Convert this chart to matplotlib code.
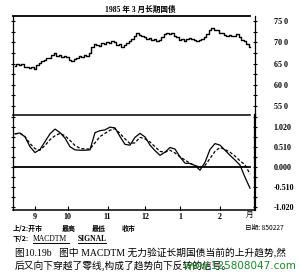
import numpy as np
import matplotlib
matplotlib.use('Agg')
import matplotlib.pyplot as plt
from matplotlib.ticker import MultipleLocator, FixedLocator

# daily closes of the March 1985 long bond
price = [64.5, 64.9, 64.7, 64.9, 64.3, 64.1, 63.9, 64.1, 63.8, 64.6,
         65.2, 65.7, 65.9, 66.4, 66.2, 67.0, 67.4, 66.9, 67.1, 66.5,
         66.8, 66.6, 65.9, 65.7, 66.1, 66.3, 66.8, 66.6, 67.0, 66.9,
         67.6, 68.8, 69.6, 69.4, 69.1, 69.8, 69.6, 70.1, 69.9, 70.4,
         70.0, 69.3, 69.6, 68.9, 69.4, 69.9, 70.2, 70.8, 71.6, 72.1,
         71.8, 71.6, 71.2, 70.9, 71.1, 70.5, 70.7, 70.2, 70.6, 71.2,
         72.0, 72.3, 72.0, 72.2, 71.6, 71.2, 70.6, 70.9, 70.2, 70.8,
         71.1, 70.9, 70.6, 70.2, 70.5, 70.7, 71.3, 72.0, 72.8, 73.3,
         73.0, 72.8, 72.3, 72.1, 71.8, 71.6, 71.8, 71.4, 71.6, 72.0,
         71.2, 70.5, 70.2, 69.7, 69.0]

# MACDTM and its signal line, one value every second day
macdtm = [0.85, 0.87, 0.77, 0.52, 0.37, 0.45, 0.65, 0.85, 0.97, 0.88,
          0.74, 0.52, 0.44, 0.43, 0.43, 0.44, 0.88, 0.93, 0.95, 1.02,
          1.00, 0.78, 0.58, 0.56, 0.76, 0.86, 0.77, 0.56, 0.42, 0.30,
          0.38, 0.50, 0.46, 0.26, 0.10, 0.09, 0.04, -0.08, 0.12, 0.45,
          0.60, 0.56, 0.43, 0.30, 0.18, 0.05, -0.26, -0.54]
signal = [0.85, 0.86, 0.78, 0.60, 0.47, 0.43, 0.55, 0.70, 0.80, 0.86,
          0.80, 0.68, 0.55, 0.48, 0.46, 0.46, 0.62, 0.78, 0.86, 0.94,
          0.98, 0.86, 0.72, 0.60, 0.62, 0.76, 0.72, 0.64, 0.52, 0.40,
          0.38, 0.43, 0.36, 0.26, 0.18, 0.10, 0.04, 0.00, 0.04, 0.22,
          0.40, 0.50, 0.45, 0.38, 0.28, 0.16, 0.06, -0.18]

month_days = [8, 21, 37, 52, 66, 82]
month_labels = ['9', '10', '11', '12', '1', '2']
price_ticks = [55, 60, 65, 70, 75]
price_labels = ['55 0', '60 0', '65 0', '70 0', '75 0']
macd_ticks = [-1.02, -0.51, 0.0, 0.51, 1.02]
macd_labels = ['-1.020', '-0.510', '0.000', '0.510', '1.020']

days = np.arange(len(price))
macd_days = np.arange(len(macdtm)) * 2

W, H = 300, 276
fig = plt.figure(figsize=(W / 100, H / 100), dpi=100)
fig.patch.set_facecolor('white')

num_font = dict(family='Liberation Serif', weight='bold', size=5.8)
cjk = ['Noto Sans CJK SC', 'DejaVu Sans']

def px(x, y):
    return x / W, 1 - y / H

# axes: left x=13..255 px, top panel y=16..115, lower panel y=115..210
ax1 = fig.add_axes([13 / W, 1 - 115 / H, 242 / W, 99 / H])
ax2 = fig.add_axes([13 / W, 1 - 210 / H, 242 / W, 95 / H])
xlim = (-0.8, 96)
end_frac = 237 / 242

for ax in (ax1, ax2):
    ax.set_xlim(*xlim)
    ax.set_facecolor('none')
    ax.spines['top'].set_visible(False)
    ax.spines['left'].set_linewidth(0.9)
    ax.spines['right'].set_linewidth(0.9)
    ax.tick_params(axis='y', which='both', left=True, right=True,
                   direction='inout', labelleft=False, labelright=True,
                   length=3, width=0.8, pad=12)
    ax.tick_params(axis='y', which='minor', length=2.5)

# top panel
ax1.set_ylim(52.9, 76.2)
ax1.spines['bottom'].set_visible(False)
ax1.plot(days, price, color='black', lw=1.0, drawstyle='steps-mid')
ax1.set_xticks([])
ax1.yaxis.set_major_locator(FixedLocator(price_ticks))
ax1.yaxis.set_minor_locator(MultipleLocator(2.5))
ax1.set_yticklabels(price_labels, **num_font)
ax1.plot([0, end_frac], [1.0, 1.0], transform=ax1.transAxes, color='black',
         lw=1.3, clip_on=False)
ax1.plot([0, end_frac], [0.0, 0.0], transform=ax1.transAxes, color='black',
         lw=1.1, clip_on=False)

# lower panel
ax2.set_ylim(-1.097, 1.33)
ax2.plot(macd_days, macdtm, color='black', lw=0.9)
ax2.plot(macd_days, signal, color='black', lw=0.9, ls=(0, (2.5, 1.5)))
ax2.axhline(0, xmin=0, xmax=end_frac, color='black', lw=1.3)
ax2.spines['right'].set_linewidth(1.6)
ax2.spines['bottom'].set_linewidth(1.1)
ax2.yaxis.set_major_locator(FixedLocator(macd_ticks))
ax2.yaxis.set_minor_locator(MultipleLocator(0.255))
ax2.set_yticklabels(macd_labels, **num_font)
ax2.set_xticks(month_days)
ax2.set_xticklabels(month_labels, **num_font)
ax2.tick_params(axis='x', direction='in', length=3, width=0.8, pad=2)

# titles and legend text
fig.text(*px(140, 10), '1985 年 3 月长期国债', ha='center', va='center',
         fontsize=5.5, fontweight='bold', family=['Liberation Serif'] + cjk)
fig.text(*px(250, 215), '月', ha='center', va='center', fontsize=5.5,
         family=cjk)
fig.text(*px(13, 228), '上/2:开市', ha='left', va='center', fontsize=5,
         fontweight='bold', family=cjk)
for x, s in [(62, '最高'), (92, '最低'), (122, '收市')]:
    fig.text(*px(x, 228), s, ha='left', va='center', fontsize=5,
             fontweight='bold', family=cjk)
fig.text(*px(245, 228), '日期: 850227', ha='left', va='center', fontsize=4.8,
         family=cjk)
fig.text(*px(13, 239), '下/2:', ha='left', va='center', fontsize=5,
         fontweight='bold', family=cjk)
fig.text(*px(33, 239), 'MACDTM', ha='left', va='center', fontsize=5.5,
         family='Liberation Serif')
fig.text(*px(78, 239), 'SIGNAL', ha='left', va='center', fontsize=5.5,
         family='Liberation Serif', fontweight='bold')
fig.lines.append(plt.Line2D([33 / W, 69 / W], [1 - 243 / H] * 2,
                            transform=fig.transFigure, color='black', lw=0.7))
fig.lines.append(plt.Line2D([78 / W, 106 / W], [1 - 243 / H] * 2,
                            transform=fig.transFigure, color='black', lw=0.7))

# caption
fig.text(*px(15, 253), '图10.19b   图中 MACDTM 无力验证长期国债当前的上升趋势,然',
         ha='left', va='center', fontsize=7.0, family=['Liberation Serif'] + cjk)
fig.text(*px(15, 266), '后又向下穿越了零线,构成了趋势向下反转的信号。',
         ha='left', va='center', fontsize=7.0, family=cjk)
fig.text(*px(296, 266), 'www.125808047.com', ha='right', va='center',
         fontsize=7.5, color='#1a8a2a', family='DejaVu Sans')

fig.savefig('out.png', dpi=100, facecolor='white')
